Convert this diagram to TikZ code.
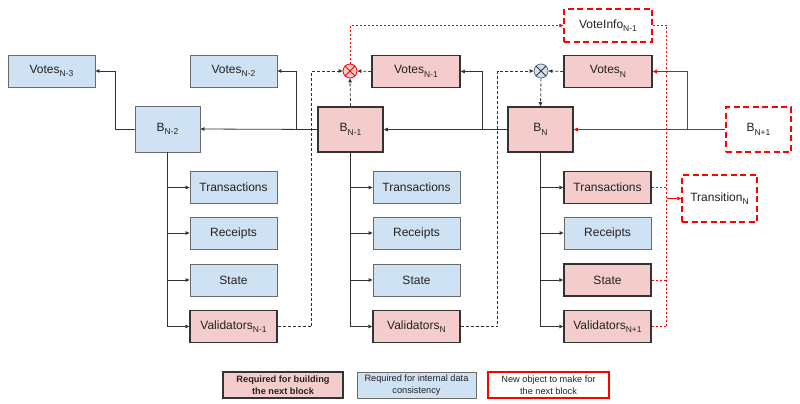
\documentclass[tikz,border=0pt]{standalone}
\usepackage{fontspec}
\setmainfont{Liberation Sans}
\usetikzlibrary{arrows.meta}
\definecolor{pinkc}{HTML}{F4CCCC}
\definecolor{bluec}{HTML}{CFE2F3}
\definecolor{darkc}{HTML}{333333}
\definecolor{greyc}{HTML}{6B6B6B}
\definecolor{linec}{HTML}{333333}
\definecolor{redc}{HTML}{FF0000}
\definecolor{textc}{HTML}{222222}
\newcommand\subs[1]{\raisebox{-3.5pt}{\fontsize{8.5}{8.5}\selectfont #1}}
\tikzset{
  box/.style={rectangle, inner sep=0pt, text=textc, font=\fontsize{12}{14}\selectfont, align=center},
  pinkbox/.style={box, fill=pinkc, draw=darkc, line width=1.5pt},
  bluebox/.style={box, fill=bluec, draw=greyc, line width=0.8pt},
  newbox/.style={box, fill=white, draw=redc, line width=1.5pt, dash pattern=on 6pt off 3.5pt},
  child/.style={minimum width=87pt, minimum height=32pt},
  blk/.style={minimum width=65pt, minimum height=45pt},
  vot/.style={minimum width=88pt, minimum height=32pt},
  tip/.style={-{Triangle[length=4pt,width=3.5pt]}},
  conn/.style={draw=linec, line width=0.8pt, tip},
  dconn/.style={draw=linec, line width=0.8pt, dash pattern=on 3pt off 2pt, tip},
  rconn/.style={draw=redc, line width=0.8pt, tip},
  rdot/.style={draw=redc, line width=0.7pt, dash pattern=on 2pt off 2pt},
  xcirc/.style={circle, minimum size=14pt, inner sep=0pt, line width=0.8pt},
  legend/.style={rectangle, inner sep=0pt, text=textc, font=\fontsize{9.2}{12}\selectfont, align=center, minimum height=26pt},
}
\begin{document}
\begin{tikzpicture}[x=1pt, y=-1pt]
\useasboundingbox (0,0) rectangle (800,404);
% top-level blocks
\node[bluebox, vot, minimum width=87pt] (v3) at (51.5,71) {Votes\subs{N-3}};
\node[bluebox, vot, minimum width=87pt] (v2) at (233.5,71) {Votes\subs{N-2}};
\node[bluebox, blk, minimum height=46pt] (bn2) at (167.5,129) {B\subs{N-2}};
\node[pinkbox, blk] (bn1) at (350.5,129.5) {B\subs{N-1}};
\node[pinkbox, vot] (vo1) at (416,71.5) {Votes\subs{N-1}};
\node[pinkbox, blk] (bN) at (540.5,129.5) {B\subs{N}};
\node[pinkbox, vot] (vN) at (608,71.5) {Votes\subs{N}};
\node[newbox, vot, minimum height=33pt] (vi) at (608,25.5) {VoteInfo\subs{N-1}};
\node[newbox, blk] (bp1) at (758.5,129.5) {B\subs{N+1}};
\node[newbox, minimum width=75pt, minimum height=47pt] (tr) at (719.5,198.5) {Transition\subs{N}};
% circles
\node[xcirc, fill=pinkc, draw=redc] (c1) at (350,71) {};
\draw[redc, line width=0.8pt] (c1.45) -- (c1.225) (c1.135) -- (c1.315);
\node[xcirc, fill=bluec, draw=greyc] (c2) at (541,71) {};
\draw[darkc, line width=0.8pt] (c2.45) -- (c2.225) (c2.135) -- (c2.315);
% column 1
\node[bluebox, child] (t1) at (233.5,187.5) {Transactions};
\node[bluebox, child] (r1) at (233.5,233) {Receipts};
\node[bluebox, child] (s1) at (233.5,280) {State};
\node[pinkbox, child] (val1) at (233.5,326.5) {Validators\subs{N-1}};
% column 2
\node[bluebox, child] (t2) at (416.5,187.5) {Transactions};
\node[bluebox, child] (r2) at (416.5,233) {Receipts};
\node[bluebox, child] (s2) at (416.5,280) {State};
\node[pinkbox, child] (val2) at (416.5,326.5) {Validators\subs{N}};
% column 3
\node[pinkbox, child] (t3) at (607.5,187.5) {Transactions};
\node[bluebox, child] (r3) at (607.5,233) {Receipts};
\node[pinkbox, child] (s3) at (607.5,280) {State};
\node[pinkbox, child] (val3) at (607.5,326.5) {Validators\subs{N+1}};
% chain connectors
\draw[conn] (bn2.west) -- ++(-19,0) |- (v3.east);
\draw[conn] (bn1.west) -- (bn2.east);
\draw[conn] (bn1.west) ++(-21,0) |- (v2.east);
\draw[conn] (bN.west) -- (bn1.east);
\draw[conn] (bN.west) ++(-25,0) |- (vo1.east);
\draw[rconn] (bp1.west) -- (bN.east);
\draw[rconn] (bp1.west) ++(-38,0) |- (vN.east);
% trunks
\foreach \b/\t/\r/\s/\v in {bn2/t1/r1/s1/val1, bn1/t2/r2/s2/val2, bN/t3/r3/s3/val3}{
  \draw[conn] (\b.south) |- (\t.west);
  \draw[conn] (\b.south) |- (\r.west);
  \draw[conn] (\b.south) |- (\s.west);
  \draw[conn] (\b.south) |- (\v.west);
}
% dashed vote aggregation
\draw[dconn] (val1.east) -- ++(34,0) |- (c1.west);
\draw[dconn] (vo1.west) -- (c1.east);
\draw[dconn] (bn1.north) -- (c1.south);
\draw[dconn] (val2.east) -- ++(37,0) |- (c2.west);
\draw[dconn] (vN.west) -- (c2.east);
\draw[dconn] (c2.south) -- (bN.north);
% red dotted
\draw[rdot, tip] (c1.north) |- (vi.west);
\draw[rdot] (vi.east) -- ++(14,0) coordinate (rtop) |- (val3.east);
\draw[rdot] (t3.east) -- (t3.east -| rtop);
\draw[rdot] (s3.east) -- (s3.east -| rtop);
\draw[rconn] (tr.west -| rtop) -- (tr.west);
% legend
\node[legend, fill=pinkc, draw=darkc, line width=1.5pt, minimum width=120pt, font=\fontsize{9.2}{12}\selectfont\bfseries] (l1) at (283,385) {Required for building\\the next block};
\node[legend, fill=bluec, draw=greyc, line width=0.8pt, minimum width=119pt] (l2) at (416.5,385) {Required for internal data\\consistency};
\node[legend, fill=white, draw=redc, line width=1.5pt, minimum width=121pt] (l3) at (548.5,385) {New object to make for\\the next block};
\end{tikzpicture}
\end{document}
